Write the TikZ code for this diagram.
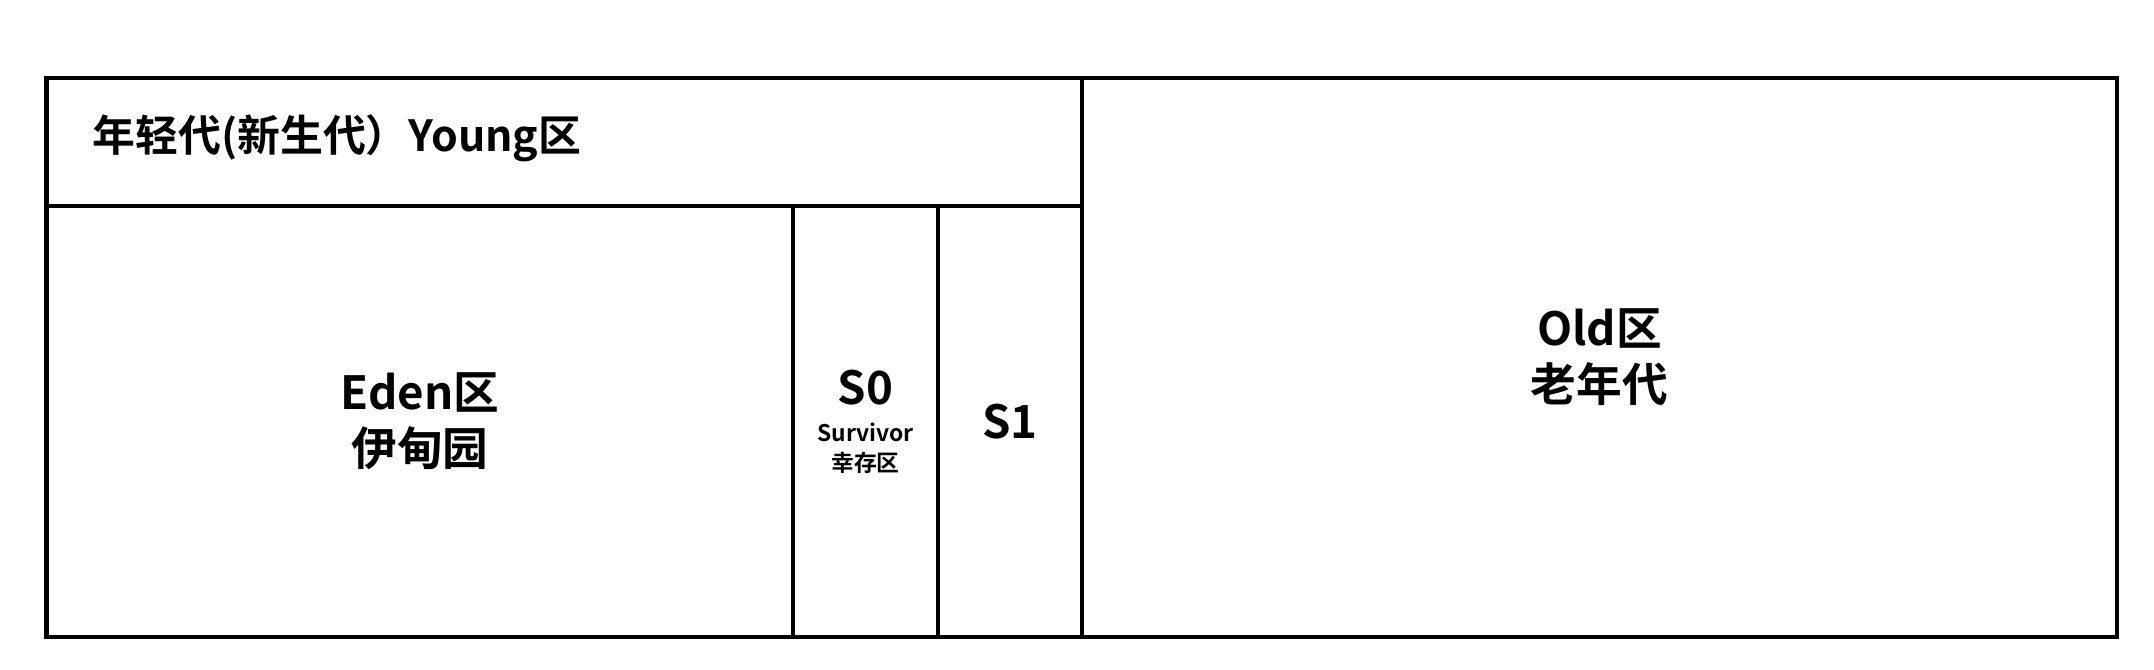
\documentclass[tikz,border=0pt]{standalone}
\usepackage{fontspec}
\newfontfamily\cjk{Noto Sans CJK SC}[BoldFont={Noto Sans CJK SC Bold}]
\begin{document}
\begin{tikzpicture}[
    zone/.style={draw,line width=1.4pt,inner sep=0pt,align=center,
        font=\cjk\bfseries\fontsize{13}{16}\selectfont},
    small/.style={font=\cjk\bfseries\fontsize{6.5}{8.5}\selectfont}]
        \useasboundingbox (0,0) rectangle (21.54,6.70);
        %% Young generation
        \node[zone,minimum width=10.353cm,minimum height=1.28cm] (young) at (5.6435,5.28) {};
        \node[anchor=west,font=\cjk\bfseries\fontsize{12.2}{14}\selectfont] (ytitle) at (0.80,5.32) {年轻代(新生代）Young区};
        \node[zone,minimum width=7.463cm,minimum height=4.31cm] (eden) at (4.1985,2.485) {Eden区\\伊甸园};
        \node[zone,small,minimum width=1.45cm,minimum height=4.31cm] (s0) at (8.655,2.485)
            {{\fontsize{13}{16}\selectfont S0}\\[2pt]Survivor\\幸存区};
        \node[zone,minimum width=1.44cm,minimum height=4.31cm] (s1) at (10.10,2.485) {S1};
        %% Old generation
        \node[zone,minimum width=10.35cm,minimum height=5.59cm] (old) at (15.995,3.125) {Old区\\老年代};
\end{tikzpicture}
\end{document}
